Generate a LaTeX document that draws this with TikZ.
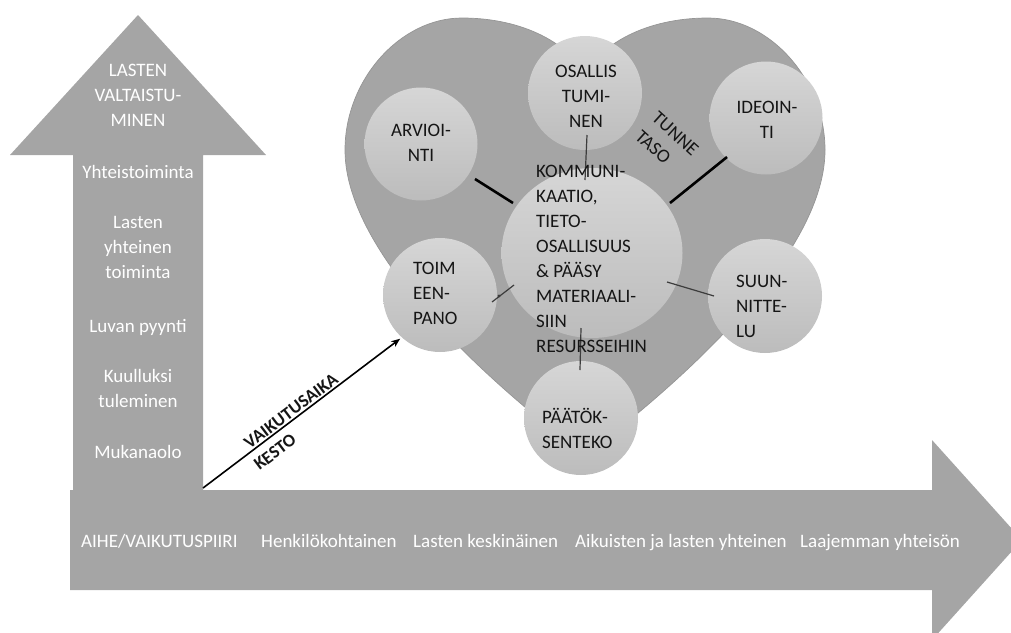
\documentclass[tikz,border=0pt]{standalone}
\usepackage{fontspec}
\setmainfont{Carlito}
\usetikzlibrary{arrows.meta,calc,shapes.geometric}
\definecolor{agray}{HTML}{A5A5A5}
\definecolor{hedge}{HTML}{959595}
\definecolor{ctop}{HTML}{D6D6D6}
\definecolor{cbot}{HTML}{BCBCBC}
\definecolor{ink}{HTML}{151515}
\definecolor{thinc}{HTML}{3C3C3C}
\newcommand{\myfs}{\fontsize{19}{25}\selectfont}
\begin{document}
\begin{tikzpicture}[x=1pt,y=-1pt,
  bigarrow/.style={fill=agray,draw=none},
  heartshape/.style={fill=agray,draw=hedge,line width=0.7pt},
  bub/.style={circle,inner sep=0pt,minimum size=114pt,top color=ctop,bottom color=cbot,draw=none},
  ctext/.style={inner sep=0pt,text=ink,font=\myfs},
  wtext/.style={inner sep=0pt,text=white,font=\myfs,align=center},
  thickconn/.style={line width=2.6pt,black},
  thinconn/.style={line width=1.2pt,thinc},
  axislabel/.style={inner sep=0pt,text=ink,font=\fontsize{18}{22}\selectfont\bfseries},
]
\useasboundingbox (0,0) rectangle (1011,632);
\clip (0,0) rectangle (1011,632);

% big arrows
\fill[bigarrow] (73,490) -- (73,155) -- (10,155) -- (138,15) -- (266,155) -- (203,155) -- (203,490) -- cycle;
\fill[bigarrow] (70,490) -- (932,490) -- (932,440) -- (1022,540) -- (932,640) -- (932,590) -- (70,590) -- cycle;

% left arrow texts
\node[wtext] (up1) at (138,95) {LASTEN\\VALTAISTU-\\MINEN};
\node[wtext,anchor=base] (up2) at (138,178) {Yhteistoiminta};
\node[wtext] (up3) at (138,247) {Lasten\\yhteinen\\toiminta};
\node[wtext,anchor=base] (up4) at (138,332) {Luvan pyynti};
\node[wtext] (up5) at (138,388.5) {Kuulluksi\\tuleminen};
\node[wtext,anchor=base] (up6) at (138,458) {Mukanaolo};

% bottom arrow texts
\node[wtext,anchor=base west] (h1) at (81,547) {AIHE/VAIKUTUSPIIRI};
\node[wtext,anchor=base west] (h2) at (261,547) {Henkilökohtainen};
\node[wtext,anchor=base west] (h3) at (413,547) {Lasten keskinäinen};
\node[wtext,anchor=base west] (h4) at (575,547) {Aikuisten ja lasten yhteinen};
\node[wtext,anchor=base west] (h5) at (800,547) {Laajemman yhteisön};

% heart
\path[heartshape] (585,455) .. controls (505,395) and (345,260) .. (345,150)
  .. controls (345,80) and (400,18) .. (462,18)
  .. controls (525,18) and (570,45) .. (585,75)
  .. controls (600,45) and (645,18) .. (708,18)
  .. controls (770,18) and (825,80) .. (825,150)
  .. controls (825,260) and (665,395) .. (585,455) -- cycle;

% bubbles
\node[bub] (osa) at (585,93) {};
\node[bub,minimum size=113pt] (arv) at (421,144) {};
\node[bub,minimum size=113pt] (ide) at (766,118) {};
\node[bub,ellipse,minimum width=181pt,minimum height=170pt] (cen) at (592,253) {};
\node[bub] (toi) at (440,295) {};
\node[bub] (suu) at (765,296) {};
\node[bub] (paa) at (581,418) {};

% connector end points
\coordinate (arvA) at ($(arv)+(54,35)$);
\coordinate (arvB) at ($(arv)+(92,59)$);
\coordinate (ideA) at ($(ide)+(-39,39)$);
\coordinate (ideB) at ($(ide)+(-96,85)$);
\coordinate (osaA) at ($(osa)+(2,42)$);
\coordinate (osaB) at ($(osa)+(0,87)$);
\coordinate (toiA) at ($(toi)+(52,7)$);
\coordinate (toiB) at ($(toi)+(74,-10)$);
\coordinate (suuA) at ($(suu)+(-98,-14)$);
\coordinate (suuB) at ($(suu)+(-51,0)$);
\coordinate (paaA) at ($(paa)+(0,-90)$);
\coordinate (paaB) at ($(paa)+(-1,-48)$);

\draw[thickconn] (arvA) -- (arvB);
\draw[thickconn] (ideA) -- (ideB);
\draw[thinconn] (osaA) -- (osaB);
\draw[thinconn] (toiA) -- (toiB);
\fill[thinc] ($(toi)+(59,1)$) circle (1.6pt);
\draw[thinconn] (suuA) -- (suuB);
\draw[thinconn] (paaA) -- (paaB);

% bubble texts
\node[ctext,align=center] (osaT) at (586,96) {OSALLIS\\TUMI-\\NEN};
\node[ctext,align=center] (arvT) at (421,142.5) {ARVIOI-\\NTI};
\node[ctext,align=center] (ideT) at (767,119.5) {IDEOIN-\\TI};
\node[ctext,align=left,anchor=west] (toiT) at (413,293) {TOIM\\EEN-\\PANO};
\node[ctext,align=left,anchor=west] (suuT) at (736,306) {SUUN-\\NITTE-\\LU};
\node[ctext,align=left,anchor=west] (paaT) at (542,428) {PÄÄTÖK-\\SENTEKO};
\node[ctext,align=left,anchor=west] (cenT) at (536,258.5) {KOMMUNI-\\KAATIO,\\TIETO-\\OSALLISUUS\\\& PÄÄSY\\MATERIAALI-\\SIIN\\RESURSSEIHIN};
\node[ctext,align=left,rotate=-42] (tunne) at (667,143) {TUNNE\\TASO};

% duration arrow
\coordinate (vs) at (203,488);
\draw[line width=1.6pt,black,-{Stealth[length=9pt,width=7pt]},shorten >=2pt] (vs) -- (toi.228);
\node[axislabel,rotate=37] (vk) at (291,411) {VAIKUTUSAIKA};
\node[axislabel,rotate=37] (ks) at (275,452) {KESTO};
\end{tikzpicture}
\end{document}
